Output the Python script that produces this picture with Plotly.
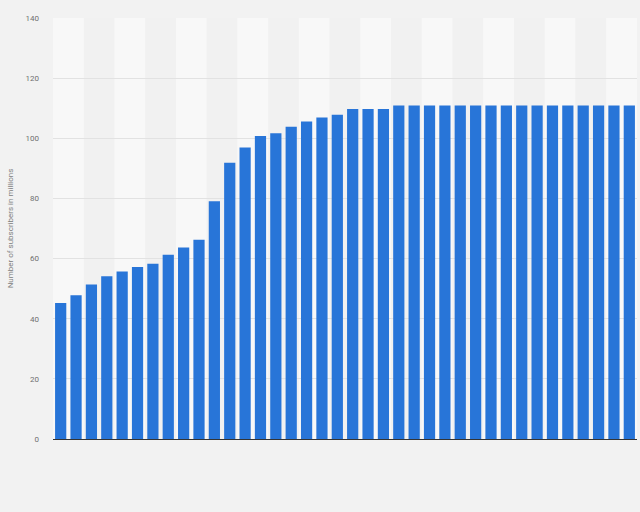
import plotly.graph_objects as go

# one bar per period (millions of subscribers)
periods = [str(i) for i in range(1, 39)]
subscribers = [45.2, 47.8, 51.4, 54.1, 55.7, 57.2, 58.3, 61.3, 63.7, 66.3,
               79.1, 91.9, 96.9, 100.8, 101.7, 103.8, 105.6, 106.9, 107.8, 109.7,
               109.7, 109.7, 110.9, 110.9, 110.9, 110.9, 110.9, 110.9, 110.9, 110.9,
               110.9, 110.9, 110.9, 110.9, 110.9, 110.9, 110.9, 110.9]
y_ticks = [0, 20, 40, 60, 80, 100, 120, 140]

fig = go.Figure()
fig.add_trace(go.Bar(
    x=periods,
    y=subscribers,
    marker=dict(color="#2875d8", line=dict(width=0)),
))

# alternating light/grey column bands behind the bars (2 bars per band)
shapes = []
for i in range(0, len(periods), 2):
    shade = "#f8f8f8" if (i // 2) % 2 == 0 else "#f1f1f1"
    shapes.append(dict(type="rect", xref="x", yref="paper",
                       x0=i - 0.5, x1=i + 1.5, y0=0, y1=1,
                       fillcolor=shade, line=dict(width=0), layer="below"))

fig.update_layout(
    width=640, height=512,
    margin=dict(l=53, r=3, t=18, b=73),
    paper_bgcolor="#f2f2f2",
    plot_bgcolor="#f5f5f5",
    bargap=0.27,
    showlegend=False,
    shapes=shapes,
    font=dict(family="Roboto, Arial, sans-serif", size=8, color="#707070"),
    xaxis=dict(showticklabels=False, showgrid=False, zeroline=False,
               showline=True, linecolor="#333333", linewidth=1,
               range=[-0.5, len(periods) - 0.5]),
    yaxis=dict(range=[0, 140], tickvals=y_ticks, showgrid=True,
               gridcolor="#e2e2e2", gridwidth=1, zeroline=False,
               ticks="", ticklabelstandoff=13,
               title=dict(text="Number of subscribers in millions",
                          font=dict(size=8, color="#808080"), standoff=10)),
)

# drop the page margin so the figure fills the window
fig.write_html("out.html",
               config={"displayModeBar": False},
               post_script="document.body.style.margin='0';"
                           "document.body.style.background='#f2f2f2';"
                           "document.body.style.overflow='hidden';")
